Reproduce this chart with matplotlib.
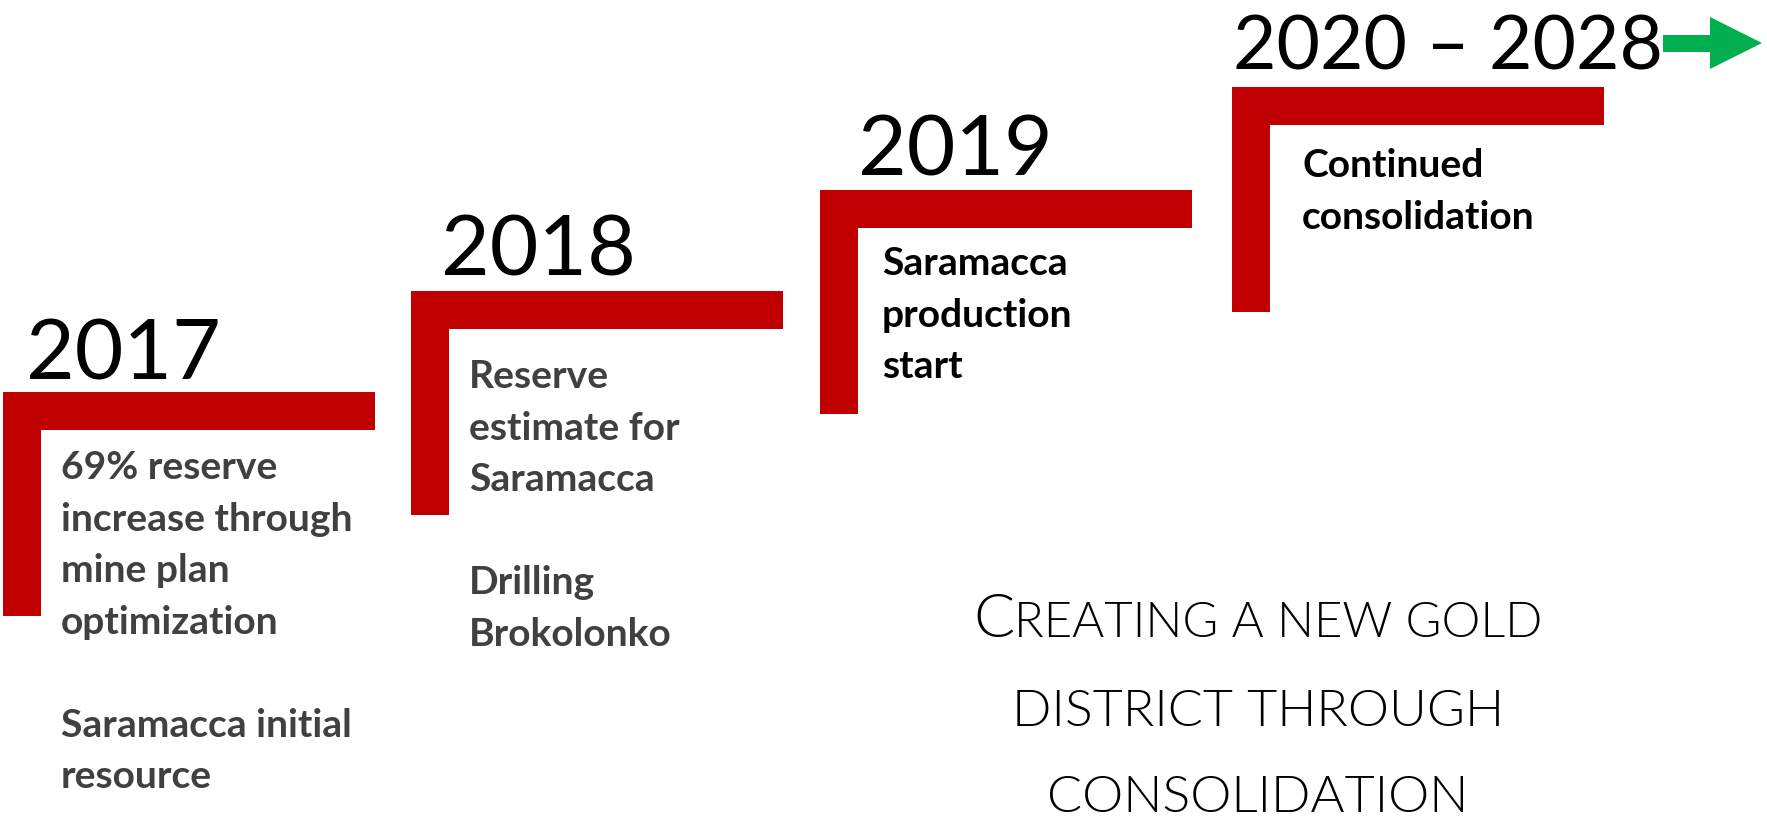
import matplotlib
matplotlib.use("Agg")
import matplotlib.pyplot as plt

# ---- content ----
years = ["2017", "2018", "2019", "2020 \u2013 2028"]
descriptions = [
    ["69% reserve", "increase through", "mine plan", "optimization", "",
     "Saramacca initial", "resource"],
    ["Reserve", "estimate for", "Saramacca", "", "Drilling", "Brokolonko"],
    ["Saramacca", "production", "start"],
    ["Continued", "consolidation"],
]
desc_colors = ["#404040", "#404040", "#000000", "#000000"]
title_first_cap = "C"
title_first_rest = "REATING A NEW GOLD"
title_lines = ["DISTRICT THROUGH", "CONSOLIDATION"]

# ---- layout (pixel space) ----
W, H = 1767, 822
bracket_left = [3, 411, 820, 1232]
bracket_top = [392, 291, 190, 87]
bracket_bottom = [616, 515, 414, 312]
bracket_width = 372
bar_thick = 38
year_x = [26, 441, 858, 1233]
year_base = [379, 275, 175, 69]
year_em = [84, 84, 84, 75]
desc_x = [61, 469, 882, 1302]
desc_base = [479, 388, 275, 177]
line_step = 51.5
RED = "#C00000"
GREEN = "#00B050"
FONT = "Lato"

fig = plt.figure(figsize=(W / 100, H / 100), dpi=100)
ax = fig.add_axes([0, 0, 1, 1])
ax.set_xlim(0, W)
ax.set_ylim(H, 0)
ax.axis("off")

pt = 0.72  # px -> pt at 100 dpi

for i in range(4):
    l, t, b = bracket_left[i], bracket_top[i], bracket_bottom[i]
    r = l + bracket_width
    xs = [l, r, r, l + bar_thick, l + bar_thick, l]
    ys = [t, t, t + bar_thick, t + bar_thick, b, b]
    ax.fill(xs, ys, color=RED, lw=0)
    ax.text(year_x[i], year_base[i], years[i], fontsize=year_em[i] * pt,
            family=FONT, color="black", ha="left", va="baseline")
    for j, line in enumerate(descriptions[i]):
        if line:
            ax.text(desc_x[i], desc_base[i] + j * line_step, line,
                    fontsize=39 * pt, family=FONT, fontweight="bold",
                    color=desc_colors[i], ha="left", va="baseline")

# green arrow
ax.fill([1663, 1710, 1710, 1762, 1710, 1710, 1663],
        [35, 35, 17, 43, 69, 52, 52], color=GREEN, lw=0)

# title
center_x = 1258
renderer = fig.canvas.get_renderer()
tc = ax.text(0, 637, title_first_cap, fontsize=61 * pt, family=FONT,
             fontweight=300, ha="left", va="baseline")
tr = ax.text(0, 637, title_first_rest, fontsize=49 * pt, family=FONT,
             fontweight=300, ha="left", va="baseline")
wc = tc.get_window_extent(renderer).width
wr = tr.get_window_extent(renderer).width
x0 = center_x - (wc + wr) / 2
tc.set_x(x0)
tr.set_x(x0 + wc)
for k, line in enumerate(title_lines):
    ax.text(center_x, 726 + k * 86, line, fontsize=52 * pt, family=FONT,
            fontweight=300, ha="center", va="baseline")

fig.savefig("out.png", dpi=100)
